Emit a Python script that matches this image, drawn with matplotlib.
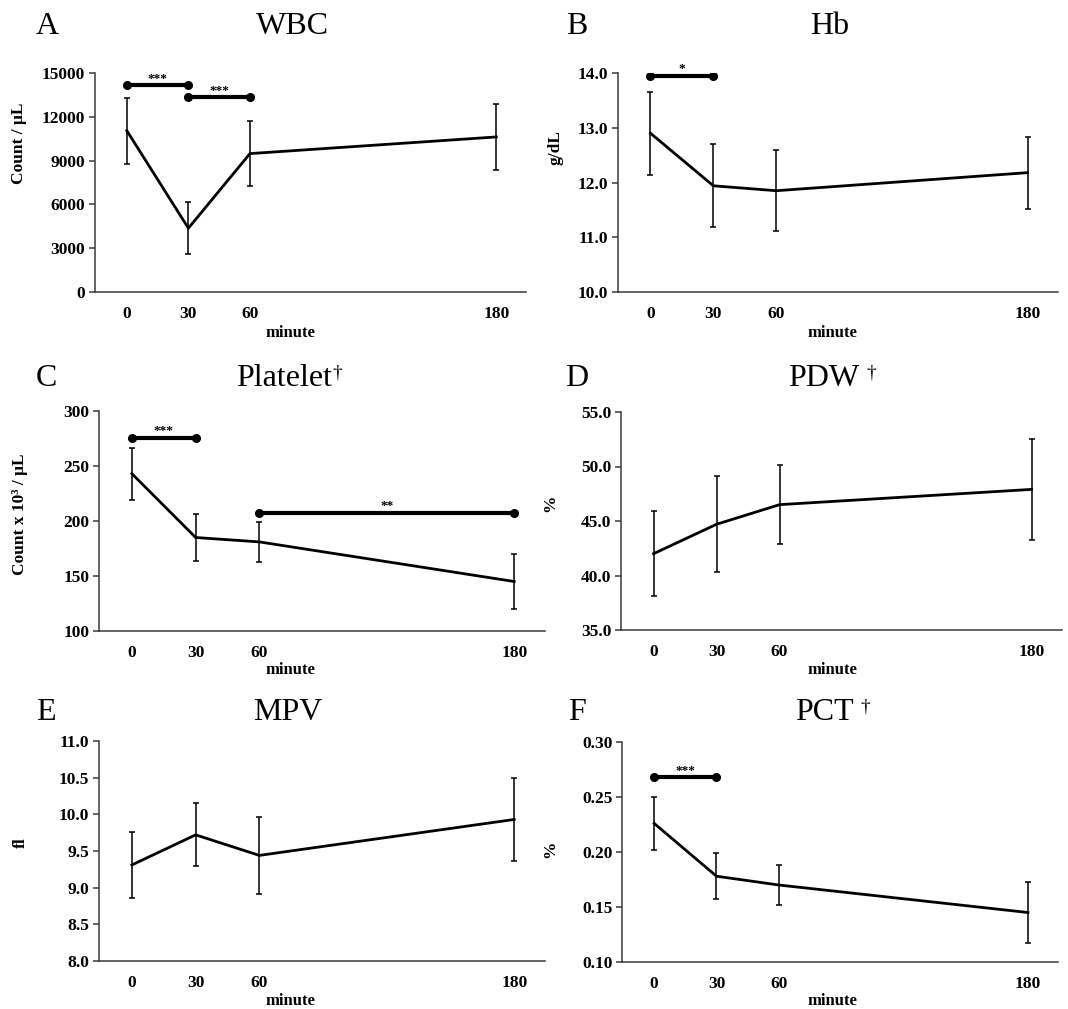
import matplotlib.pyplot as plt
import numpy as np

plt.rcParams['font.family'] = ['Liberation Serif', 'DejaVu Serif']

# time points (minutes)
minutes = np.array([0, 30, 60, 180])

# panel data: mean and SD
wbc_mean = [11050, 4370, 9480, 10620]
wbc_sd = [2250, 1780, 2250, 2250]
hb_mean = [12.90, 11.94, 11.85, 12.18]
hb_sd = [0.76, 0.76, 0.74, 0.66]
plt_mean = [243, 185, 181, 145]
plt_sd = [23.5, 21, 18.2, 25]
pdw_mean = [42.0, 44.7, 46.5, 47.9]
pdw_sd = [3.9, 4.4, 3.6, 4.6]
mpv_mean = [9.31, 9.72, 9.44, 9.93]
mpv_sd = [0.45, 0.43, 0.52, 0.56]
pct_mean = [0.226, 0.178, 0.170, 0.145]
pct_sd = [0.024, 0.021, 0.018, 0.028]

# significance bars: (start minute, end minute, height, stars)
wbc_sig = [(0, 30, 14150, '***'), (30, 60, 13330, '***')]
hb_sig = [(0, 30, 13.95, '*')]
plt_sig = [(0, 30, 275.5, '***'), (60, 180, 207.3, '**')]
pct_sig = [(0, 30, 0.268, '***')]

W, H = 1068, 1009
fig = plt.figure(figsize=(W / 100, H / 100), dpi=100)


def px_axes(l, r, t, b):
    return fig.add_axes([l / W, 1 - b / H, (r - l) / W, (b - t) / H])


def draw_panel(box, mean, sd, sig, yticks, fmt, letter, title, dagger, dag_gap,
               ylabel, ylab_xy, xlab_xy, title_x, title_y):
    ax = px_axes(*box)
    ax.errorbar(minutes, mean, yerr=sd, color='black', lw=2, elinewidth=1.1,
                capsize=2.2, capthick=1.1)
    for x0, x1, h, stars in sig:
        ax.plot([x0, x1], [h, h], color='black', lw=3, marker='o', ms=5.5,
                solid_capstyle='round')
        ax.annotate(stars, xy=((x0 + x1) / 2, h), xytext=(0, 2.5),
                    textcoords='offset points', ha='center', va='baseline',
                    fontsize=9.5, fontweight='bold')
    ax.set_xlim(-15.5, 194.5)
    ax.set_ylim(yticks[0], yticks[-1])
    ax.set_xticks(minutes)
    ax.set_yticks(yticks)
    ax.set_yticklabels([fmt % v for v in yticks])
    for s in ['top', 'right']:
        ax.spines[s].set_visible(False)
    for s in ['left', 'bottom']:
        ax.spines[s].set_color('#3a3a3a')
        ax.spines[s].set_linewidth(1.1)
    ax.tick_params(axis='y', direction='out', length=4, width=1.1,
                   color='#3a3a3a', pad=3, labelsize=12.5)
    ax.tick_params(axis='x', length=0, pad=10, labelsize=12.5)
    for lab in ax.get_xticklabels() + ax.get_yticklabels():
        lab.set_fontweight('bold')
    ax.set_ylabel(ylabel, fontsize=12.5, fontweight='bold', va='center')
    ax.yaxis.set_label_coords(ylab_xy[0] / W, 1 - ylab_xy[1] / H,
                              transform=fig.transFigure)
    ax.set_xlabel('minute', fontsize=12, fontweight='bold', va='center')
    ax.xaxis.set_label_coords(xlab_xy[0] / W, 1 - xlab_xy[1] / H,
                              transform=fig.transFigure)
    fig.text(letter[1] / W, 1 - title_y / H, letter[0], fontsize=23,
             ha='left', va='center')
    t = fig.text(title_x / W, 1 - title_y / H, title, fontsize=23,
                 ha='center', va='center')
    if dagger:
        fig.canvas.draw()
        ax.annotate('\u2020', xy=(1, 0.95), xycoords=t, xytext=(dag_gap, 0),
                    textcoords='offset points', ha='left', va='top',
                    fontsize=14)
    return ax


draw_panel((95, 526, 73, 292), wbc_mean, wbc_sd, wbc_sig,
           [0, 3000, 6000, 9000, 12000, 15000], '%d', ('A', 36), 'WBC',
           False, 0, 'Count / \u03bcL', (19, 143), (290, 333), 292, 26)
draw_panel((618, 1058, 73, 292), hb_mean, hb_sd, hb_sig,
           [10.0, 11.0, 12.0, 13.0, 14.0], '%.1f', ('B', 566), 'Hb',
           False, 0, 'g/dL', (555, 148), (832, 333), 830, 26)
draw_panel((99, 545, 411, 631), plt_mean, plt_sd, plt_sig,
           [100, 150, 200, 250, 300], '%d', ('C', 36), 'Platelet',
           True, 0.5, 'Count x 10\u00b3 / \u03bcL', (20, 514), (290, 670), 284, 378)
draw_panel((621, 1062, 412, 630), pdw_mean, pdw_sd, [],
           [35.0, 40.0, 45.0, 50.0, 55.0], '%.1f', ('D', 565), 'PDW',
           True, 5, '%', (550, 503), (832, 670), 824, 378)
draw_panel((99, 545, 741, 961), mpv_mean, mpv_sd, [],
           [8.0, 8.5, 9.0, 9.5, 10.0, 10.5, 11.0], '%.1f', ('E', 36), 'MPV',
           False, 0, 'fl', (21, 843), (290, 1001), 288, 712)
draw_panel((622, 1058, 742, 962), pct_mean, pct_sd, pct_sig,
           [0.10, 0.15, 0.20, 0.25, 0.30], '%.2f', ('F', 568), 'PCT',
           True, 5, '%', (550, 849), (832, 1001), 824, 712)

fig.savefig('out.png', dpi=100)
